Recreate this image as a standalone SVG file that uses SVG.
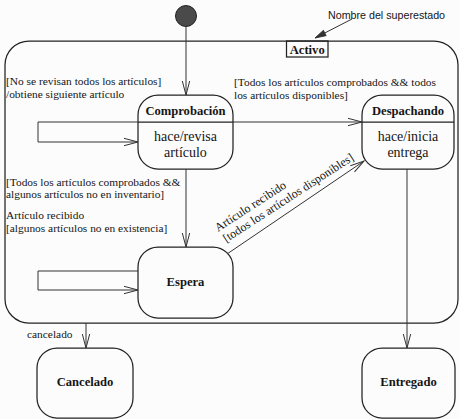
<svg xmlns="http://www.w3.org/2000/svg" width="460" height="419" viewBox="0 0 460 419">
<style>
.st{fill:none;stroke:#222;stroke-width:1.25}
.ln{fill:none;stroke:#333;stroke-width:1}
.t{font-family:"Liberation Serif","Times New Roman",serif;font-size:11.4px;fill:#151515}
.d{font-family:"Liberation Serif","Times New Roman",serif;font-size:12px;fill:#151515}
.b{font-family:"Liberation Serif","Times New Roman",serif;font-size:12.6px;font-weight:bold;fill:#151515;text-anchor:middle}
.a{font-family:"Liberation Serif","Times New Roman",serif;font-size:14px;fill:#151515;text-anchor:middle}
.s{font-family:"Liberation Sans",Arial,sans-serif;font-size:10.7px;fill:#151515}
</style>
<defs>
<marker id="open" markerUnits="userSpaceOnUse" markerWidth="16" markerHeight="10" refX="15" refY="5" orient="auto" overflow="visible">
<path d="M1,1.3 L15,5 L1,8.7" fill="none" stroke="#333" stroke-width="1"/>
</marker>
<marker id="fill" markerUnits="userSpaceOnUse" markerWidth="12" markerHeight="8" refX="11" refY="4" orient="auto" overflow="visible">
<path d="M0,1 L11,4 L0,7 z" fill="#333" stroke="#333" stroke-width="0.8"/>
</marker>
</defs>
<rect x="0" y="0" width="460" height="419" fill="#fcfcfc"/>

<g id="initial">
<circle cx="186" cy="16" r="10.5" fill="#4a4a4a" stroke="#222" stroke-width="1"/>
</g>

<g id="activo">
<rect class="st" x="5" y="41" width="453" height="282" rx="24" ry="24"/>
<rect class="st" x="286.5" y="41" width="41.5" height="16" fill="#fcfcfc"/>
<text class="b" x="307.2" y="54">Activo</text>
</g>

<g id="annotation">
<text class="s" x="328" y="19">Nombre del superestado</text>
</g>

<g id="comprobacion">
<rect class="st" x="138" y="95" width="95" height="74" rx="20" ry="20"/>
<line class="st" x1="138" y1="122" x2="233" y2="122"/>
<text class="b" x="185.5" y="115">Comprobación</text>
<text class="a" x="185.5" y="141">hace/revisa</text>
<text class="a" x="185.5" y="157">artículo</text>
</g>

<g id="despachando">
<rect class="st" x="362" y="95" width="92" height="74" rx="20" ry="20"/>
<line class="st" x1="362" y1="122" x2="454" y2="122"/>
<text class="b" x="408" y="115">Despachando</text>
<text class="a" x="408" y="141">hace/inicia</text>
<text class="a" x="408" y="157">entrega</text>
</g>

<g id="espera">
<rect class="st" x="138" y="247" width="95" height="71" rx="20" ry="20"/>
<text class="b" x="185.5" y="286">Espera</text>
</g>

<g id="cancelado">
<rect class="st" x="37" y="348" width="96" height="70" rx="20" ry="20"/>
<text class="b" x="85" y="386">Cancelado</text>
</g>

<g id="entregado">
<rect class="st" x="362" y="348" width="93" height="70" rx="20" ry="20"/>
<text class="b" x="408.5" y="386">Entregado</text>
</g>

<g id="connectors">
<line class="ln" x1="352" y1="19" x2="315" y2="38" marker-end="url(#fill)"/>
<line class="ln" x1="186" y1="26.5" x2="186" y2="95" marker-end="url(#open)"/>
<polyline class="ln" points="138,122 38,122 38,142 138,142" marker-end="url(#open)"/>
<line class="ln" x1="233" y1="122" x2="362" y2="122" marker-end="url(#open)"/>
<line class="ln" x1="186" y1="169" x2="186" y2="247" marker-end="url(#open)"/>
<polyline class="ln" points="138,271 38,271 38,290 138,290" marker-end="url(#open)"/>
<line class="ln" x1="227" y1="254" x2="364" y2="161" marker-end="url(#open)"/>
<line class="ln" x1="407" y1="169" x2="407" y2="348" marker-end="url(#open)"/>
<line class="ln" x1="86" y1="323" x2="86" y2="348" marker-end="url(#open)"/>
</g>

<g id="labels">
<text class="t" x="6" y="85">[No se revisan todos los artículos]</text>
<text class="t" x="6" y="98">/obtiene siguiente artículo</text>
<text class="t" x="234" y="86">[Todos los artículos comprobados &amp;&amp; todos</text>
<text class="t" x="234" y="99">los artículos disponibles]</text>
<text class="t" x="6" y="186">[Todos los artículos comprobados &amp;&amp;</text>
<text class="t" x="6" y="198">algunos artículos no en inventario]</text>
<text class="t" x="6" y="219">Artículo recibido</text>
<text class="t" x="6" y="232">[algunos artículos no en existencia]</text>
<text class="t" x="27" y="338">cancelado</text>
<g transform="translate(218,232) rotate(-33)">
<text class="d" x="0" y="0">Artículo recibido</text>
<text class="d" x="1" y="13.5">[todos los artículos disponibles]</text>
</g>
</g>
</svg>
